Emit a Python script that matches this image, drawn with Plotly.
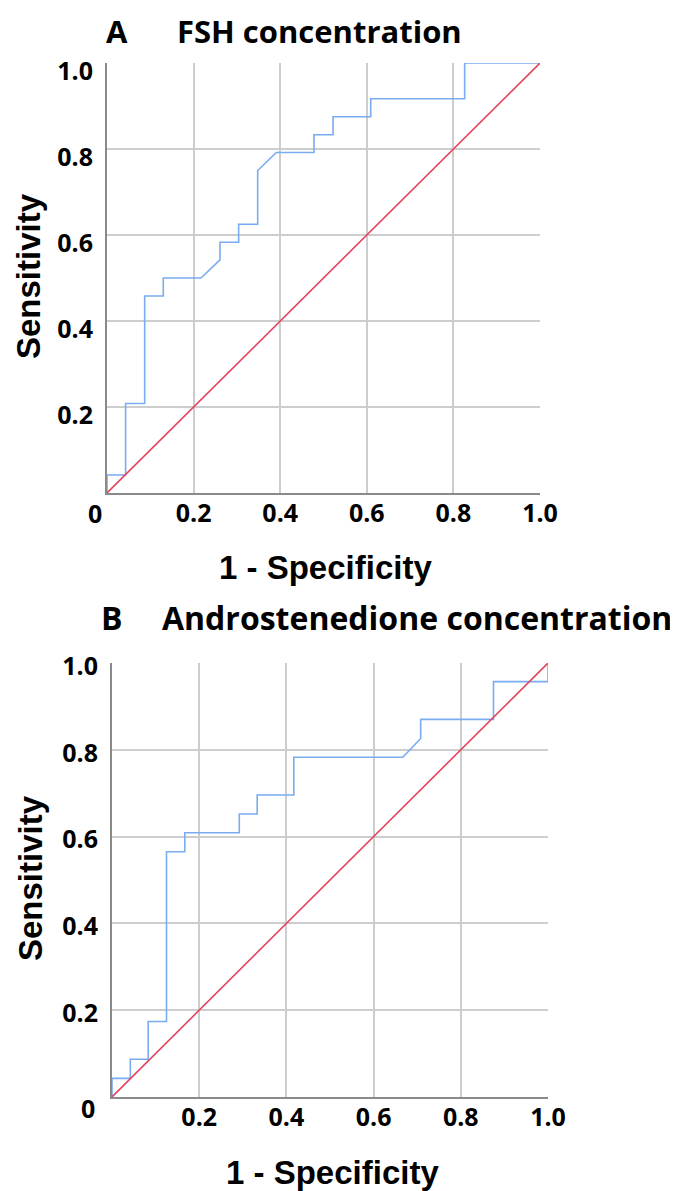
import plotly.graph_objects as go

# ---- data ----
fsh_fpr = [0, 0, 0.043, 0.043, 0.087, 0.087, 0.130, 0.130, 0.217, 0.261, 0.261, 0.304, 0.304,
           0.348, 0.348, 0.391, 0.478, 0.478, 0.522, 0.522, 0.609, 0.609, 0.826, 0.826, 1.0]
fsh_sens = [0, 0.042, 0.042, 0.208, 0.208, 0.458, 0.458, 0.500, 0.500, 0.542, 0.583, 0.583, 0.625,
            0.625, 0.750, 0.792, 0.792, 0.833, 0.833, 0.875, 0.875, 0.917, 0.917, 1.0, 1.0]

andro_fpr = [0, 0, 0.042, 0.042, 0.083, 0.083, 0.125, 0.125, 0.167, 0.167, 0.292, 0.292, 0.333,
             0.333, 0.417, 0.417, 0.667, 0.708, 0.708, 0.875, 0.875, 1.0, 1.0]
andro_sens = [0, 0.043, 0.043, 0.087, 0.087, 0.174, 0.174, 0.565, 0.565, 0.609, 0.609, 0.652, 0.652,
              0.696, 0.696, 0.783, 0.783, 0.826, 0.870, 0.870, 0.957, 0.957, 1.0]

ref_line = [0, 1]
tick_vals = [0.2, 0.4, 0.6, 0.8, 1.0]
tick_text = ["0.2", "0.4", "0.6", "0.8", "1.0"]
panel_letters = ["A", "B"]
panel_titles = ["FSH concentration", "Androstenedione concentration"]
x_title = "1 - Specificity"
y_title = "Sensitivity"

W, H = 678, 1191
OFF = 8  # page body margin compensation
BLUE = "#79acf0"
RED = "#e3455e"
GRID = "#cdcdcd"
AXIS = "#8a8a8a"
TICKFONT = dict(family="Open Sans", size=25, color="black", weight="bold")
TITLE_SIZES = [31, 32]
AXTFONT = dict(family="Liberation Sans, Arial", size=33, color="black", weight="bold")

def px_x(p):
    return (p - OFF) / W

def px_y(p):
    return 1 - (p - OFF) / H

# plot-area pixel boxes in the screenshot (left, right, top, bottom)
boxes = [(107, 540, 63, 493), (112, 548, 663, 1097)]

fig = go.Figure()
curves = [(fsh_fpr, fsh_sens), (andro_fpr, andro_sens)]
for i, (fx, sy) in enumerate(curves):
    xa = "x" if i == 0 else "x2"
    ya = "y" if i == 0 else "y2"
    fig.add_trace(go.Scatter(x=fx, y=sy, mode="lines", line=dict(color=BLUE, width=1.6),
                             xaxis=xa, yaxis=ya, showlegend=False, hoverinfo="skip"))
    fig.add_trace(go.Scatter(x=ref_line, y=ref_line, mode="lines", line=dict(color=RED, width=1.6),
                             xaxis=xa, yaxis=ya, showlegend=False, hoverinfo="skip"))

shifts = [8, 3]
for i, (l, r, t, b) in enumerate(boxes):
    sx = "xaxis" if i == 0 else "xaxis2"
    sy = "yaxis" if i == 0 else "yaxis2"
    anchor_x = "y" if i == 0 else "y2"
    anchor_y = "x" if i == 0 else "x2"
    fig.layout[sx] = dict(domain=[px_x(l), px_x(r)], range=[0, 1], anchor=anchor_x,
                          tickvals=tick_vals, ticktext=tick_text, tickfont=TICKFONT,
                          showgrid=True, gridcolor=GRID, gridwidth=1.5,
                          showline=True, linecolor=AXIS, linewidth=2, zeroline=False,
                          ticks="", ticklabelstandoff=-3, fixedrange=True, automargin=False)
    fig.layout[sy] = dict(domain=[px_y(b), px_y(t)], range=[0, 1], anchor=anchor_y,
                          tickvals=tick_vals, ticktext=tick_text, tickfont=TICKFONT,
                          showgrid=True, gridcolor=GRID, gridwidth=1.5,
                          showline=True, linecolor=AXIS, linewidth=2, zeroline=False,
                          ticks="", ticklabelstandoff=7, ticklabelshift=shifts[i],
                          fixedrange=True, automargin=False)

annotations = []
letter_pos = [(117, 27), (112, 617)]
title_pos = [(175, 27), (160, 617)]
zero_pos = [(95, 513), (88, 1108)]
xt_pos = [(325, 568), (332, 1172)]
yt_pos = [(28, 276), (30, 878)]
for i in range(2):
    tf = dict(family="Open Sans", size=TITLE_SIZES[i], color="black", weight="bold")
    if i == 0:
        # top title: anchor its text box to the top of the figure so it is not clipped
        ty, yanc = 1.0, "top"
    else:
        ty, yanc = px_y(title_pos[i][1]), "middle"
    annotations.append(dict(text=panel_letters[i], x=px_x(letter_pos[i][0]), y=ty,
                            xref="paper", yref="paper", showarrow=False, font=tf,
                            xanchor="center", yanchor=yanc))
    annotations.append(dict(text=panel_titles[i], x=px_x(title_pos[i][0]), y=ty,
                            xref="paper", yref="paper", showarrow=False, font=tf,
                            xanchor="left", yanchor=yanc))
    annotations.append(dict(text="0", x=px_x(zero_pos[i][0]), y=px_y(zero_pos[i][1]),
                            xref="paper", yref="paper", showarrow=False, font=TICKFONT,
                            xanchor="center", yanchor="middle"))
    annotations.append(dict(text=x_title, x=px_x(xt_pos[i][0]), y=px_y(xt_pos[i][1]),
                            xref="paper", yref="paper", showarrow=False, font=AXTFONT,
                            xanchor="center", yanchor="middle"))
    annotations.append(dict(text=y_title, x=px_x(yt_pos[i][0]), y=px_y(yt_pos[i][1]),
                            xref="paper", yref="paper", showarrow=False, font=AXTFONT,
                            textangle=-90, xanchor="center", yanchor="middle"))

fig.update_layout(width=W, height=H, margin=dict(l=0, r=0, t=0, b=0, pad=0, autoexpand=False),
                  paper_bgcolor="white", plot_bgcolor="white",
                  annotations=annotations, showlegend=False)

fig.write_html("out.html", config={"displayModeBar": False})
